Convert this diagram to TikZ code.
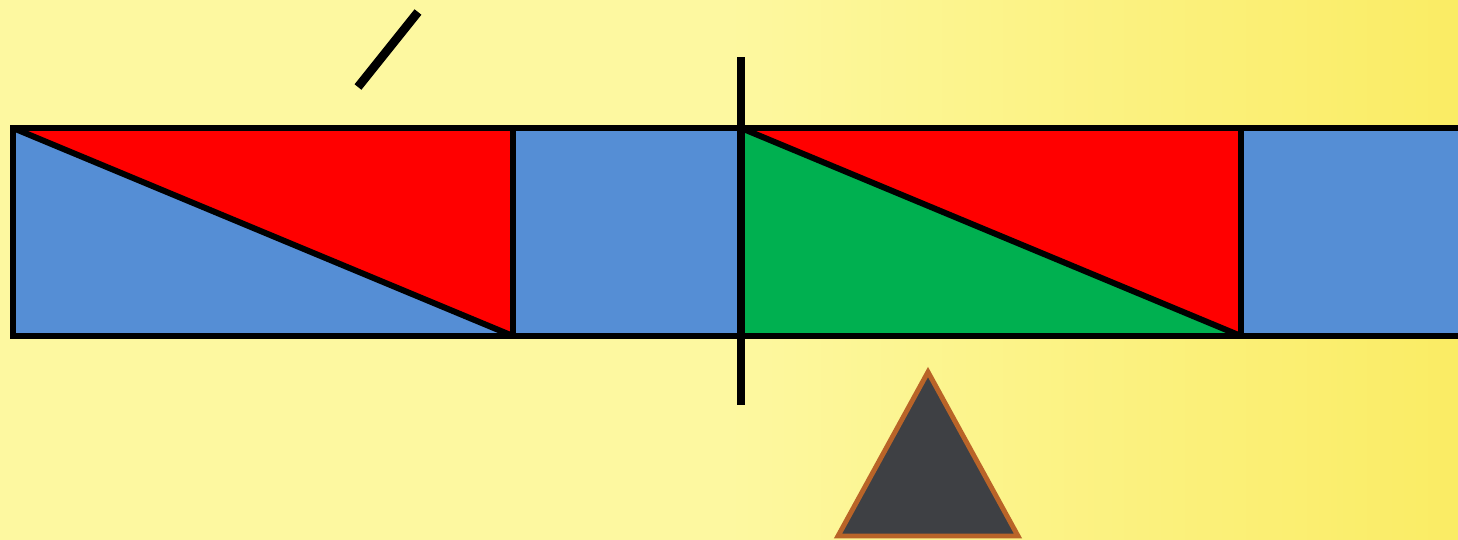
\documentclass[tikz,border=0pt]{standalone}
\usepackage{tikz}
\usetikzlibrary{calc}
\definecolor{bgLight}{RGB}{253, 248, 160}
\definecolor{bgDeep}{RGB}{250, 236, 100}
\definecolor{colBlue}{RGB}{85, 142, 213}
\definecolor{colRed}{RGB}{255, 0, 0}
\definecolor{colGreen}{RGB}{0, 176, 80}
\definecolor{colPivot}{RGB}{62, 64, 68}
\definecolor{colPivotEdge}{RGB}{185, 100, 40}

\begin{document}
\begin{tikzpicture}[
    x=0.02cm, y=-0.02cm,
    bar_style/.style={line width=3.4pt, line join=miter},
    rod_style/.style={line width=4pt},
    tick_style/.style={line width=5pt},
    pivot_style/.style={fill=colPivot, draw=colPivotEdge,
      line width=2.8pt, line join=miter}
]
    % --- Fond ---
    \useasboundingbox (0,0) rectangle (1458,539);
    \clip (0,0) rectangle (1458,539);
    \shade[left color=bgLight, right color=bgDeep, middle color=bgLight]
        (0,0) rectangle (1458,539);

    % --- Coins des barres ---
    \coordinate (a1) at (13,128);
    \coordinate (a2) at (513,336);
    \coordinate (b1) at (741,128);
    \coordinate (b2) at (1241,336);
    \coordinate (e) at (1470,336);

    % --- Remplissages ---
    \fill[colBlue] (a1) rectangle (e);
    \fill[colRed] (a1) -- (a1 -| a2) -- (a2) -- cycle;
    \fill[colRed] (b1) -- (b1 -| b2) -- (b2) -- cycle;
    \fill[colGreen] (b1) -- (b2) -- (b1 |- b2) -- cycle;

    % --- Contours ---
    \draw[bar_style] (e |- a1) -- (a1) -- (a1 |- a2) -- (e);
    \draw[bar_style] (a1 -| a2) -- (a2);
    \draw[bar_style] (b1 -| b2) -- (b2);
    \draw[bar_style] (a1) -- (a2);
    \draw[bar_style] (b1) -- (b2);

    % --- Axe vertical ---
    \coordinate (r1) at (741,57);
    \coordinate (r2) at (741,405);
    \draw[rod_style] (r1) -- (r2);

    % --- Trait incliné ---
    \coordinate (t1) at (358,87);
    \coordinate (t2) at (418,12);
    \draw[tick_style] (t1) -- (t2);

    % --- Pivot ---
    \coordinate (p0) at (928,372);
    \coordinate (p1) at (838,536);
    \coordinate (p2) at (1018,536);
    \draw[pivot_style] (p0) -- (p2) -- (p1) -- cycle;
\end{tikzpicture}
\end{document}
